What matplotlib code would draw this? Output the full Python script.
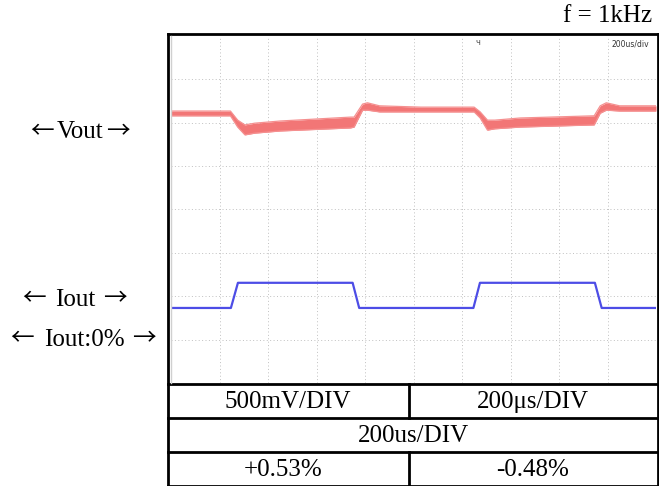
import matplotlib
matplotlib.use("Agg")
import matplotlib.pyplot as plt

# ---- data (time in us, amplitude in divisions) ----
vout_t = [0, 245, 275, 305, 345, 450, 740, 755, 790, 810, 860, 1030, 1250, 1275,
          1305, 1335, 1440, 1745, 1770, 1795, 1850, 2000]
vout_upper = [6.27, 6.27, 6.06, 5.95, 5.99, 6.04, 6.13, 6.13, 6.43, 6.46, 6.39, 6.36,
              6.36, 6.25, 6.06, 6.06, 6.11, 6.16, 6.39, 6.46, 6.39, 6.39]
vout_lower = [6.16, 6.16, 5.90, 5.72, 5.76, 5.81, 5.88, 5.90, 6.29, 6.29, 6.25, 6.25,
              6.25, 6.11, 5.83, 5.86, 5.90, 5.95, 6.22, 6.29, 6.27, 6.27]

iout_t = [0, 247, 276, 749, 776, 1247, 1274, 1748, 1776, 2000]
iout_v = [1.73, 1.73, 2.31, 2.31, 1.73, 1.73, 2.31, 2.31, 1.73, 1.73]

grid_t = [200, 400, 600, 800, 1000, 1200, 1400, 1600, 1800]
grid_v = [1, 2, 3, 4, 5, 6, 7]

left_words = ["Vout", "Iout", "Iout:0%"]
arrow_left, arrow_right = "←", "→"
table_row1 = ["500mV/DIV", "200μs/DIV"]
table_row2 = "200us/DIV"
table_row3 = ["+0.53%", "-0.48%"]
freq_label = "f = 1kHz"

W, H = 659, 486
fig = plt.figure(figsize=(W / 100, H / 100), dpi=100)
serif = ["Liberation Serif", "DejaVu Serif"]
arrow_font = ["Noto Sans CJK JP", "DejaVu Sans"]

# ---- scope area ----
ax = fig.add_axes([171 / W, (H - 383) / H, 485 / W, 347 / H])
ax.set_xlim(0, 2000)
ax.set_ylim(0, 8)
ax.set_xticks([])
ax.set_yticks([])
for s in ax.spines.values():
    s.set_visible(False)
for g in grid_t:
    ax.axvline(g, color="#c0c0c0", lw=0.7, ls=(0, (1, 2.5)), zorder=1)
for g in grid_v:
    ax.axhline(g, color="#c0c0c0", lw=0.7, ls=(0, (1, 2.5)), zorder=1)

ax.fill_between(vout_t, vout_lower, vout_upper, color="#f27676", lw=0, zorder=2)
ax.plot(vout_t, vout_upper, color="#f59090", lw=0.9, zorder=3)
ax.plot(vout_t, vout_lower, color="#f59090", lw=0.9, zorder=3)
ax.plot(iout_t, iout_v, color="#4d4de6", lw=1.6, zorder=3)

ax.text(1970, 7.82, "200us/div", fontsize=5.5, ha="right", va="center",
        family="DejaVu Sans", color="#333333")
ax.text(1265, 7.85, "Ч", fontsize=5, ha="center", va="center",
        family="DejaVu Sans", color="#333333")

# ---- frame, table and labels (figure pixel coordinates) ----
ov = fig.add_axes([0, 0, 1, 1])
ov.set_xlim(0, W)
ov.set_ylim(H, 0)
ov.axis("off")
ov.patch.set_alpha(0)

lk = dict(color="black", lw=2.0, solid_capstyle="projecting")
ov.plot([168, 168], [34.5, 486], **lk)
ov.plot([657.5, 657.5], [34.5, 486], **lk)
ov.plot([168, 657.5], [34.5, 34.5], **lk)
ov.plot([168, 657.5], [384, 384], **lk)
ov.plot([168, 657.5], [418, 418], **lk)
ov.plot([168, 657.5], [452, 452], **lk)
ov.plot([168, 657.5], [485.5, 485.5], **lk)
ov.plot([409, 409], [384, 418], **lk)
ov.plot([409, 409], [452, 486], **lk)
ov.plot([170.5, 170.5], [36, 383], color="#d0d0d0", lw=1.0)

fs = 18
ov.text(288, 402, table_row1[0], ha="center", va="center", fontsize=fs, family=serif)
ov.text(533, 402, table_row1[1], ha="center", va="center", fontsize=fs, family=serif)
ov.text(413, 436, table_row2, ha="center", va="center", fontsize=fs, family=serif)
ov.text(283, 470, table_row3[0], ha="center", va="center", fontsize=fs, family=serif)
ov.text(533, 470, table_row3[1], ha="center", va="center", fontsize=fs, family=serif)
ov.text(652, 16, freq_label, ha="right", va="center", fontsize=fs, family=serif)

# left labels: word + long arrows on each side
rows = [  # (word center x, word center y, left arrow center x, right arrow center x, arrow y)
    (80, 132, 42, 118, 132),
    (75, 300, 34, 115, 299),
    (84.5, 340, 21.5, 143.5, 339),
]
for word, (wx, wy, lx, rx, ay) in zip(left_words, rows):
    ov.text(wx, wy, word, ha="center", va="center", fontsize=fs, family=serif)
    ov.text(lx, ay, arrow_left, ha="center", va="center", fontsize=17, family=arrow_font)
    ov.text(rx, ay, arrow_right, ha="center", va="center", fontsize=17, family=arrow_font)

fig.savefig("out.png", dpi=100)
